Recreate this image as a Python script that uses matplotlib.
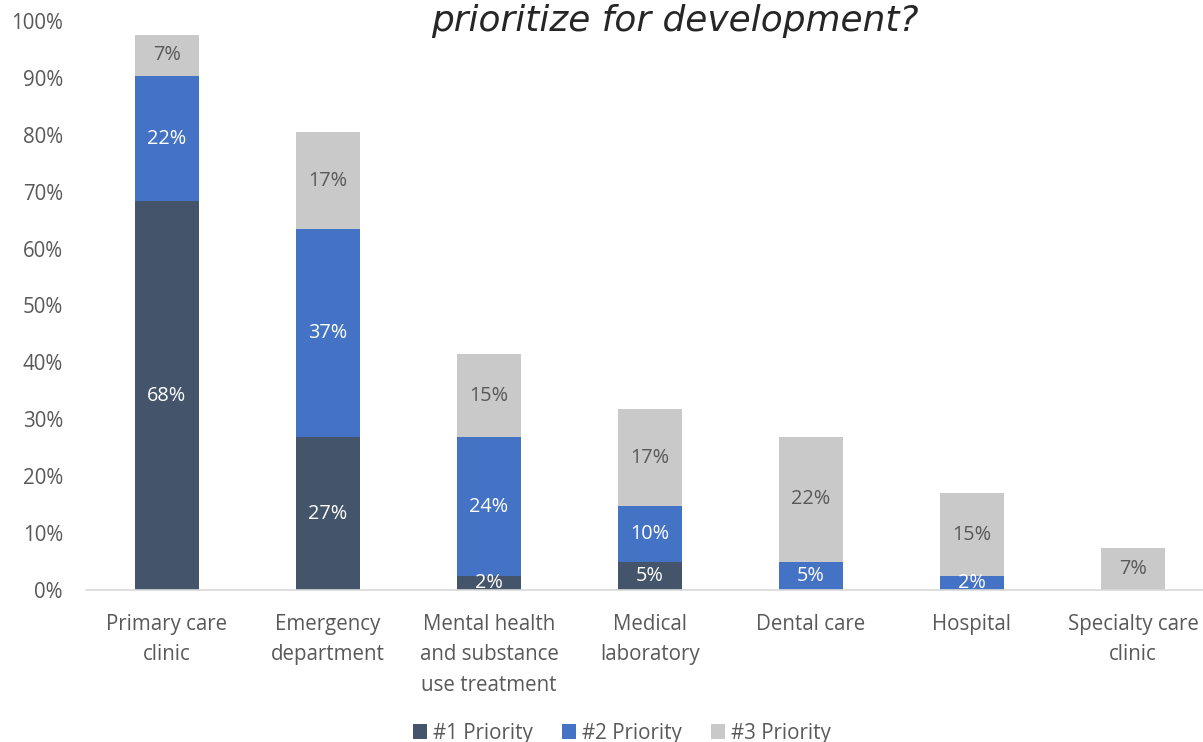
import numpy as np
import matplotlib.pyplot as plt

categories = ['Primary care\nclinic', 'Emergency\ndepartment', 'Mental health\nand substance\nuse treatment',
              'Medical\nlaboratory', 'Dental care', 'Hospital', 'Specialty care\nclinic']
p1 = [68.3, 26.8, 2.4, 4.9, 0, 0, 0]
p2 = [22.0, 36.6, 24.4, 9.8, 4.9, 2.4, 0]
p3 = [7.3, 17.1, 14.6, 17.1, 22.0, 14.6, 7.3]
series = ['#1 Priority', '#2 Priority', '#3 Priority']
colors = ['#44546A', '#4472C4', '#C9C9C9']
label_colors = ['white', 'white', '#595959']

plt.rcParams['font.family'] = ['Open Sans', 'DejaVu Sans']

fig = plt.figure(figsize=(12.03, 7.42), dpi=100)
ax = fig.add_axes([0.0719, 0.2049, 0.9368, 0.7668])

x = np.arange(len(categories))
bottom = np.zeros(len(categories))
for vals, name, col, lc in zip([p1, p2, p3], series, colors, label_colors):
    vals = np.array(vals)
    bars = ax.bar(x, vals, 0.4, bottom=bottom, color=col, label=name)
    for xi, b, v in zip(x, bottom, vals):
        if v > 0:
            ax.text(xi, b + v / 2, '%d%%' % round(v), ha='center', va='center',
                    color=lc, fontsize=14.3)
    bottom += vals

ax.set_xlim(-0.5, len(categories) - 0.5)
ax.set_ylim(0, 100)
ax.set_yticks(np.arange(0, 101, 10))
ax.set_yticklabels(['%d%%' % t for t in range(0, 101, 10)])
ax.set_xticks(x)
ax.set_xticklabels(categories, linespacing=1.6)
ax.tick_params(axis='both', length=0, labelsize=14.8, labelcolor='#595959')
ax.tick_params(axis='y', pad=17)
ax.tick_params(axis='x', pad=17)
for s in ['top', 'right', 'left']:
    ax.spines[s].set_visible(False)
ax.spines['bottom'].set_color('#D9D9D9')
ax.spines['bottom'].set_linewidth(1.2)

fig.text(0.561, 0.958, 'prioritize for development?', ha='center', va='baseline',
         fontsize=25.8, style='oblique', fontweight='light', color='#262626',
         family=['DejaVu Sans'])

fig.legend(loc='center', bbox_to_anchor=(0.517, 0.012), ncol=3, frameon=False,
           fontsize=14.8, labelcolor='#595959', handlelength=0.7, handleheight=0.7,
           handletextpad=0.3, columnspacing=1.4)

fig.savefig('out.png', dpi=100)
